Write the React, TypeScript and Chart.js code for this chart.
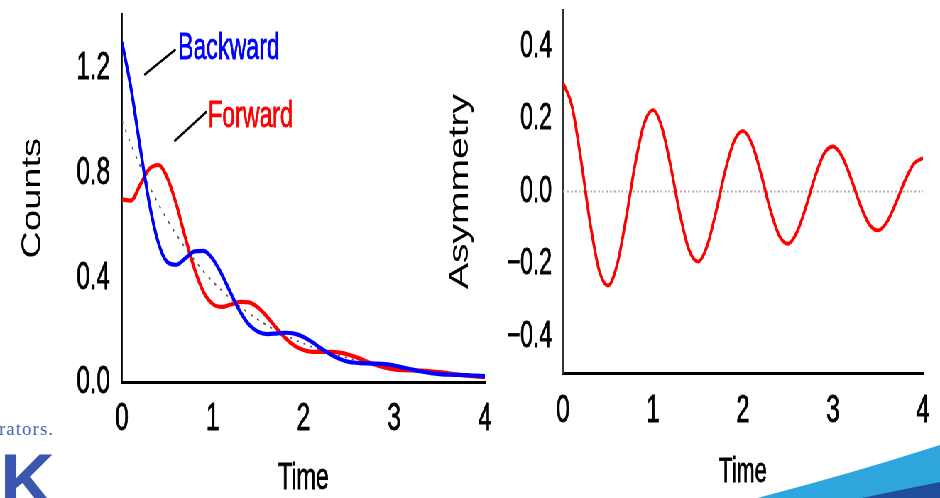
import React, { useEffect, useRef } from 'react';
import { Chart, registerables } from 'chart.js';

Chart.register(...registerables);

// ---------- data ----------
const times = [
  0, 0.1, 0.2, 0.3, 0.4, 0.5, 0.6, 0.7, 0.8, 0.9,
  1.0, 1.1, 1.2, 1.3, 1.4, 1.5, 1.6, 1.7, 1.8, 1.9,
  2.0, 2.1, 2.2, 2.3, 2.4, 2.5, 2.6, 2.7, 2.8, 2.9,
  3.0, 3.1, 3.2, 3.3, 3.4, 3.5, 3.6, 3.7, 3.8, 3.9, 4.0,
];

const backward = [
  1.300, 1.123, 0.899, 0.687, 0.535, 0.460, 0.450, 0.475, 0.501, 0.503,
  0.472, 0.413, 0.340, 0.272, 0.221, 0.194, 0.185, 0.187, 0.190, 0.187,
  0.174, 0.153, 0.129, 0.107, 0.090, 0.079, 0.075, 0.073, 0.072, 0.070,
  0.065, 0.057, 0.049, 0.042, 0.036, 0.032, 0.030, 0.029, 0.028, 0.026, 0.024,
];

const forward = [
  0.700, 0.695, 0.755, 0.815, 0.831, 0.782, 0.680, 0.551, 0.433, 0.345,
  0.300, 0.289, 0.298, 0.308, 0.306, 0.286, 0.251, 0.209, 0.170, 0.141,
  0.124, 0.117, 0.117, 0.117, 0.114, 0.106, 0.094, 0.080, 0.067, 0.057,
  0.050, 0.047, 0.046, 0.045, 0.043, 0.040, 0.035, 0.030, 0.026, 0.023, 0.020,
];

const average = [
  1.000, 0.909, 0.827, 0.751, 0.683, 0.621, 0.565, 0.513, 0.467, 0.424,
  0.386, 0.351, 0.319, 0.290, 0.264, 0.240, 0.218, 0.198, 0.180, 0.164,
  0.149, 0.135, 0.123, 0.112, 0.102, 0.093, 0.084, 0.076, 0.070, 0.063,
  0.057, 0.052, 0.048, 0.043, 0.039, 0.036, 0.032, 0.030, 0.027, 0.024, 0.022,
];

const asymmetry = [
  0.300, 0.235, 0.087, -0.085, -0.216, -0.259, -0.203, -0.075, 0.073, 0.186,
  0.224, 0.176, 0.065, -0.063, -0.161, -0.193, -0.151, -0.056, 0.055, 0.138,
  0.167, 0.131, 0.049, -0.047, -0.120, -0.144, -0.112, -0.042, 0.040, 0.104,
  0.124, 0.097, 0.036, -0.035, -0.089, -0.107, -0.084, -0.031, 0.030, 0.077, 0.092,
];

const zeroTimes = [0, 4];
const zeroValues = [0, 0];

const timeTicks = [0, 1, 2, 3, 4];
const countsTicks = [0, 0.4, 0.8, 1.2];
const asymTicks = [-0.4, -0.2, 0, 0.2, 0.4];

// ---------- styling ----------
const SX = 0.71; // horizontal squeeze of the slide
const K = 0.87; // extra condensing of the narrow lettering
const WRAP_W = 1324;
const CANVAS_H = 520;
const REGULAR = "'Liberation Sans', Arial, sans-serif";

const pts = (xs: number[], ys: number[]) => xs.map((x, i) => ({ x, y: ys[i] }));

const fmt = (v: number) => {
  if (Math.abs(v) < 1e-9) return '0.0';
  return v < 0 ? '\u2212' + Math.abs(v).toFixed(1) : v.toFixed(1);
};

const annotations = [
  { text: 'Backward', color: '#0000ff', at: [0.617, 1.276], line: [0.246, 1.175, 0.592, 1.273] },
  { text: 'Forward', color: '#ff0000', at: [0.948, 1.016], line: [0.576, 0.921, 0.933, 1.035] },
];

function drawNarrow(ctx: any, text: string, x: number, y: number, align: string, size: number, color = '#000') {
  ctx.save();
  ctx.font = `${size}px ${REGULAR}`;
  ctx.fillStyle = color;
  ctx.strokeStyle = color;
  ctx.lineWidth = 0.8;
  ctx.textBaseline = 'middle';
  ctx.textAlign = align;
  ctx.translate(x, y);
  ctx.scale(K, 1);
  ctx.fillText(text, 0, 0);
  ctx.strokeText(text, 0, 0);
  ctx.restore();
}

// draws tick labels and the x title in condensed lettering, from the chart's own scales
const narrowAxisPlugin = {
  id: 'narrowAxis',
  afterDraw(chart: any, _args: any, opts: any) {
    const { ctx } = chart;
    const xs = chart.scales.x;
    const ys = chart.scales.y;
    for (const t of ys.ticks) {
      drawNarrow(ctx, fmt(t.value), ys.right - opts.yPad, ys.getPixelForValue(t.value), 'right', opts.yTickSize);
    }
    for (const t of xs.ticks) {
      drawNarrow(ctx, String(t.value), xs.getPixelForValue(t.value), xs.top + opts.xTickDy, 'center', opts.xTickSize);
    }
    drawNarrow(ctx, xs.options.title.text, (xs.left + xs.right) / 2, xs.top + opts.titleDy, 'center', opts.titleSize);
  },
};

const labelPlugin = {
  id: 'curveLabels',
  afterDatasetsDraw(chart: any) {
    const { ctx } = chart;
    const xs = chart.scales.x;
    const ys = chart.scales.y;
    for (const a of annotations) {
      ctx.save();
      ctx.strokeStyle = '#000';
      ctx.lineWidth = 2.6;
      ctx.beginPath();
      ctx.moveTo(xs.getPixelForValue(a.line[0]), ys.getPixelForValue(a.line[1]));
      ctx.lineTo(xs.getPixelForValue(a.line[2]), ys.getPixelForValue(a.line[3]));
      ctx.stroke();
      ctx.restore();
      drawNarrow(ctx, a.text, xs.getPixelForValue(a.at[0]), ys.getPixelForValue(a.at[1]), 'left', 37.5, a.color);
    }
  },
};

function zeroPad(scale: any) {
  scale.paddingTop = 0;
  scale.paddingBottom = 0;
  scale.paddingLeft = 0;
  scale.paddingRight = 0;
}

const hiddenTicks = { display: false, autoSkip: false };
const noGrid = { display: false, drawTicks: false, tickLength: 0 };

export default function App() {
  const leftRef = useRef<HTMLCanvasElement>(null);
  const rightRef = useRef<HTMLCanvasElement>(null);

  useEffect(() => {
    const left = new Chart(leftRef.current!, {
      type: 'line',
      data: {
        datasets: [
          {
            label: 'Backward',
            data: pts(times, backward),
            borderColor: '#0000ff',
            borderWidth: 4.2,
            pointRadius: 0,
            cubicInterpolationMode: 'monotone',
          },
          {
            label: 'Forward',
            data: pts(times, forward),
            borderColor: '#ff0000',
            borderWidth: 4.2,
            pointRadius: 0,
            cubicInterpolationMode: 'monotone',
          },
          {
            label: 'Average',
            data: pts(times, average),
            borderColor: '#555',
            borderWidth: 1.7,
            borderDash: [3, 7],
            pointRadius: 0,
            cubicInterpolationMode: 'monotone',
          },
        ],
      },
      options: {
        animation: false,
        responsive: false,
        maintainAspectRatio: false,
        devicePixelRatio: 1,
        layout: { padding: { left: 0, top: 14, right: 36.9, bottom: 0 } },
        plugins: {
          legend: { display: false },
          tooltip: { enabled: false },
          narrowAxis: { yPad: 16.9, xTickDy: 37, titleDy: 96.5, yTickSize: 39, xTickSize: 39, titleSize: 37.5 },
        },
        scales: {
          x: {
            type: 'linear',
            min: 0,
            max: 4,
            afterBuildTicks: (s: any) => { s.ticks = timeTicks.map((v) => ({ value: v })); },
            afterFit: (s: any) => { s.height = CANVAS_H - 382.5; zeroPad(s); },
            grid: noGrid,
            border: { display: true, color: '#000', width: 3 },
            ticks: hiddenTicks,
            title: { display: false, text: 'Time' },
          },
          y: {
            type: 'linear',
            min: 0,
            max: 1.408,
            afterBuildTicks: (s: any) => { s.ticks = countsTicks.map((v) => ({ value: v })); },
            afterFit: (s: any) => { s.width = 171.8; zeroPad(s); },
            grid: noGrid,
            border: { display: true, color: '#000', width: 2.8 },
            ticks: hiddenTicks,
            title: {
              display: true,
              text: 'Counts',
              color: '#000',
              font: { family: REGULAR, size: 38 },
              padding: { top: 23.7, bottom: 0 },
            },
          },
        },
      },
      plugins: [labelPlugin, narrowAxisPlugin],
    } as any);

    const right = new Chart(rightRef.current!, {
      type: 'line',
      data: {
        datasets: [
          {
            label: 'Asymmetry',
            data: pts(times, asymmetry),
            borderColor: '#ff0000',
            borderWidth: 3.8,
            pointRadius: 0,
            cubicInterpolationMode: 'monotone',
          },
          {
            label: 'zero',
            data: pts(zeroTimes, zeroValues),
            borderColor: '#b0b0b0',
            borderWidth: 1.8,
            borderDash: [2.5, 3],
            pointRadius: 0,
          },
        ],
      },
      options: {
        animation: false,
        responsive: false,
        maintainAspectRatio: false,
        devicePixelRatio: 1,
        layout: { padding: { left: 0, top: 10, right: 24, bottom: 0 } },
        plugins: {
          legend: { display: false },
          tooltip: { enabled: false },
          narrowAxis: { yPad: 15.5, xTickDy: 38, titleDy: 99.5, yTickSize: 37, xTickSize: 39, titleSize: 35.5 },
        },
        scales: {
          x: {
            type: 'linear',
            min: 0,
            max: 4,
            afterBuildTicks: (s: any) => { s.ticks = timeTicks.map((v) => ({ value: v })); },
            afterFit: (s: any) => { s.height = CANVAS_H - 373; zeroPad(s); },
            grid: noGrid,
            border: { display: true, color: '#000', width: 3 },
            ticks: hiddenTicks,
            title: { display: false, text: 'Time' },
          },
          y: {
            type: 'linear',
            min: -0.5,
            max: 0.5,
            afterBuildTicks: (s: any) => { s.ticks = asymTicks.map((v) => ({ value: v })); },
            afterFit: (s: any) => { s.width = 193; zeroPad(s); },
            grid: noGrid,
            border: { display: true, color: '#333', width: 2.8 },
            ticks: hiddenTicks,
            title: {
              display: true,
              text: 'Asymmetry',
              color: '#000',
              font: { family: REGULAR, size: 39 },
              padding: { top: 24.6, bottom: 0 },
            },
          },
        },
      },
      plugins: [narrowAxisPlugin],
    } as any);

    return () => {
      left.destroy();
      right.destroy();
    };
  }, []);

  return (
    <div
      style={{
        position: 'fixed',
        left: 0,
        top: 0,
        width: 940,
        height: 498,
        overflow: 'hidden',
        background: '#fff',
      }}
    >
      <svg width={940} height={498} style={{ position: 'absolute', left: 0, top: 0 }}>
        <text x={-1} y={435} fill="#4566b5" fontFamily="'Liberation Serif', serif" fontSize={18.5} letterSpacing={1.2}>
          rators.
        </text>
        <text x={0} y={507} fill="#3a57ad" fontFamily="'Liberation Sans', Arial, sans-serif" fontWeight="bold" fontSize={76}>
          K
        </text>
        <path d="M 757 498 Q 850 474 940 445 L 940 498 Z" fill="#2ea6dd" />
        <path d="M 862 498 Q 900 490 940 482 L 940 498 Z" fill="#1f4c9c" />
      </svg>
      <div
        style={{
          position: 'absolute',
          left: 0,
          top: 0,
          width: WRAP_W,
          height: CANVAS_H,
          transform: `scaleX(${SX})`,
          transformOrigin: '0 0',
        }}
      >
        <canvas ref={leftRef} width={720} height={CANVAS_H} style={{ position: 'absolute', left: 0, top: 0 }} />
        <canvas ref={rightRef} width={724} height={CANVAS_H} style={{ position: 'absolute', left: 600, top: 0 }} />
      </div>
    </div>
  );
}
